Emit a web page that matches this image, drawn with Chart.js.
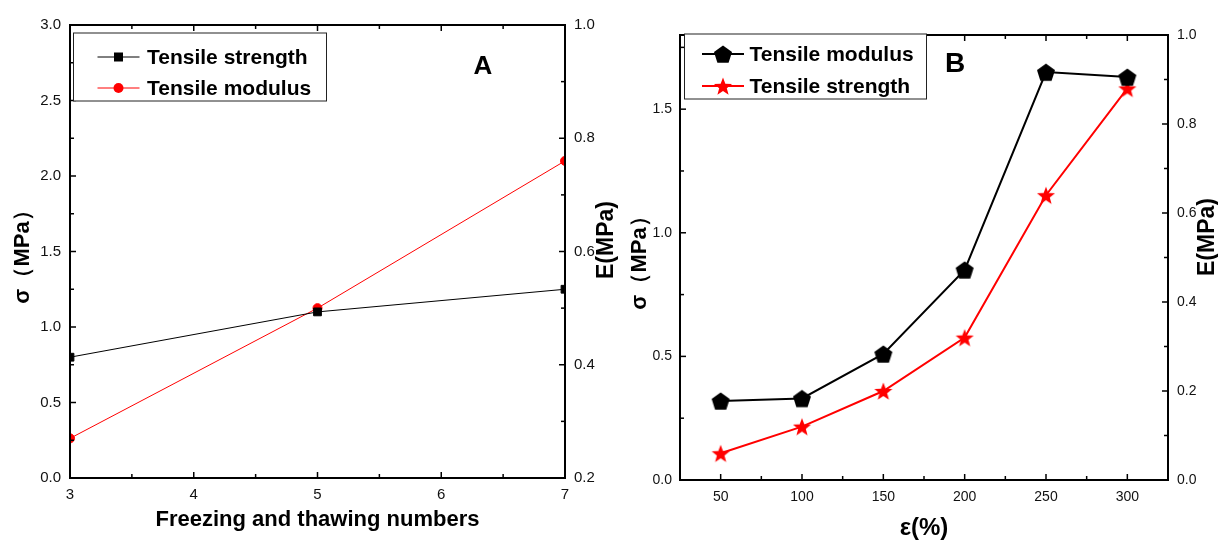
<!DOCTYPE html>
<html>
<head>
<meta charset="utf-8">
<script src="https://cdn.jsdelivr.net/npm/chart.js@4.4.0/dist/chart.umd.min.js"></script>
<style>
body { margin: 0; background: #fff; }
#wrap { position: relative; width: 1218px; height: 541px; overflow: hidden; }
canvas { position: absolute; top: 0; }
#chartA { left: 0; }
#chartB { left: 620px; }
</style>
</head>
<body>
<div id="wrap">
<canvas id="chartA" width="620" height="541"></canvas>
<canvas id="chartB" width="598" height="541"></canvas>
</div>
<script>
// Panel A - freeze/thaw cycles
const cyclesA = [3, 5, 7];
const strengthA = [0.8, 1.1, 1.25];   // sigma, left axis
const modulusA = [0.27, 0.5, 0.76];   // E, right axis

// Panel B - strain
const strainB = [50, 100, 150, 200, 250, 300];
const modulusB = [0.32, 0.33, 0.51, 0.85, 1.65, 1.63];  // left axis
const strengthB = [0.06, 0.12, 0.2, 0.32, 0.64, 0.88];  // right axis
const xTicksB = [50, 100, 150, 200, 250, 300];
const yTicksB = [0, 0.5, 1.0, 1.5];

const FONT = '"Liberation Sans", Arial, Helvetica, sans-serif';
Chart.defaults.font.family = FONT;
Chart.defaults.color = '#000';

function toPoints(xs, ys) {
    return xs.map((x, i) => ({ x: x, y: ys[i] }));
}

// filled pentagon / star glyphs, Chart.js only has outline star
function makeMarker(kind, color, size) {
    const c = document.createElement('canvas');
    c.width = size;
    c.height = size;
    const g = c.getContext('2d');
    const R = size / 2 - 0.5;
    const cx = size / 2, cy = size / 2 + R * 0.1;
    const n = kind == 'star' ? 10 : 5;
    g.beginPath();
    for (let i = 0; i < n; i++) {
        const ang = -Math.PI / 2 + i * 2 * Math.PI / n;
        const r = (kind == 'star' && i % 2) ? R * 0.42 : R;
        const px = cx + r * Math.cos(ang), py = cy + r * Math.sin(ang);
        if (i == 0) g.moveTo(px, py); else g.lineTo(px, py);
    }
    g.closePath();
    g.fillStyle = color;
    g.fill();
    return c;
}
const pentagon = makeMarker('pentagon', '#000', 20);
const star = makeMarker('star', '#f00', 20);

function tickValues(scale, step) {
    const half = step / 2;
    const out = [];
    const i0 = Math.ceil(scale.min / half - 1e-6), i1 = Math.floor(scale.max / half + 1e-6);
    for (let i = i0; i <= i1; i++) {
        out.push([i * half, Math.abs(i * half / step - Math.round(i * half / step)) < 1e-6]);
    }
    return out;
}

const panelDecor = {
    id: 'panelDecor',
    afterDatasetsDraw(chart, args, o) {
        const ctx = chart.ctx, a = chart.chartArea;
        const sx = chart.scales.x, sy = chart.scales.y, sy1 = chart.scales.y1;
        ctx.save();
        ctx.strokeStyle = '#000';
        ctx.lineWidth = 1.5;
        const line = (x1, y1, x2, y2) => {
            ctx.beginPath(); ctx.moveTo(x1, y1); ctx.lineTo(x2, y2); ctx.stroke();
        };
        // inward ticks on all four sides
        tickValues(sx, o.xStep).forEach(([v, major]) => {
            const p = sx.getPixelForValue(v), L = major ? 6 : 4;
            line(p, a.bottom, p, a.bottom - L);
            line(p, a.top, p, a.top + L);
        });
        tickValues(sy, o.yStep).forEach(([v, major]) => {
            const p = sy.getPixelForValue(v), L = major ? 6 : 4;
            line(a.left, p, a.left + L, p);
        });
        tickValues(sy1, o.y1Step).forEach(([v, major]) => {
            const p = sy1.getPixelForValue(v), L = major ? 6 : 4;
            line(a.right, p, a.right - L, p);
        });
        ctx.lineWidth = 2;
        ctx.strokeRect(a.left, a.top, a.right - a.left, a.bottom - a.top);

        // legend box
        const lg = o.legend;
        ctx.fillStyle = '#fff';
        ctx.fillRect(lg.x, lg.y, lg.w, lg.h);
        ctx.lineWidth = 1;
        ctx.strokeStyle = '#222';
        ctx.strokeRect(lg.x, lg.y, lg.w, lg.h);
        chart.data.datasets.forEach((ds, i) => {
            const yy = lg.rows[i];
            ctx.strokeStyle = ds.borderColor;
            ctx.lineWidth = ds.borderWidth;
            line(lg.line[0], yy, lg.line[1], yy);
            const mx = (lg.line[0] + lg.line[1]) / 2;
            ctx.fillStyle = ds.borderColor;
            if (ds.pointStyle instanceof HTMLCanvasElement) {
                ctx.drawImage(ds.pointStyle, mx - ds.pointStyle.width / 2, yy - ds.pointStyle.height / 2);
            } else if (ds.pointStyle == 'rect') {
                ctx.fillRect(mx - 4.5, yy - 4.5, 9, 9);
            } else {
                ctx.beginPath(); ctx.arc(mx, yy, 5, 0, Math.PI * 2); ctx.fill();
            }
            ctx.fillStyle = '#000';
            ctx.font = 'bold 21px ' + FONT;
            ctx.textAlign = 'left';
            ctx.textBaseline = 'middle';
            ctx.fillText(ds.label, lg.textX, yy + 1);
        });

        // panel letter
        ctx.fillStyle = '#000';
        ctx.font = 'bold ' + o.letterSize + 'px ' + FONT;
        ctx.textAlign = 'center';
        ctx.textBaseline = 'middle';
        ctx.fillText(o.letter, o.letterX, o.letterY);

        // right axis title, reads bottom to top
        ctx.save();
        ctx.translate(o.rightTitleX, o.rightTitleY);
        ctx.rotate(-Math.PI / 2);
        ctx.font = 'bold 23px ' + FONT;
        ctx.fillText('E(MPa)', 0, 0);
        ctx.restore();
        ctx.restore();
    }
};

function axisOpts(extra) {
    return Object.assign({
        type: 'linear',
        grid: { display: false, drawTicks: false },
        border: { display: false }
    }, extra);
}

const fmt1 = v => v.toFixed(1);

// ---- Panel A ----
const ctxA = document.getElementById('chartA').getContext('2d');
const chartA = new Chart(ctxA, {
    type: 'line',
    data: {
        datasets: [{
            label: 'Tensile strength',
            data: toPoints(cyclesA, strengthA),
            yAxisID: 'y',
            borderColor: '#000',
            backgroundColor: '#000',
            borderWidth: 1,
            pointStyle: 'rect',
            pointRadius: 5.5,
            pointBorderWidth: 1,
            clip: 0
        }, {
            label: 'Tensile modulus',
            data: toPoints(cyclesA, modulusA),
            yAxisID: 'y1',
            borderColor: '#f00',
            backgroundColor: '#f00',
            borderWidth: 1,
            pointStyle: 'circle',
            pointRadius: 4.5,
            pointBorderWidth: 1,
            clip: 0
        }]
    },
    options: {
        responsive: false,
        animation: false,
        events: [],
        layout: { padding: { top: 25, left: 0, right: 0, bottom: 0 } },
        scales: {
            x: axisOpts({
                min: 3, max: 7,
                ticks: { stepSize: 1, padding: 8, font: { size: 15 }, color: '#111' },
                title: { display: true, text: 'Freezing and thawing numbers', font: { size: 22, weight: 'bold', lineHeight: 1 }, padding: { top: 0, bottom: 10 } },
                afterFit: s => { s.height = 63; }
            }),
            y: axisOpts({
                position: 'left',
                min: 0, max: 3,
                ticks: { stepSize: 0.5, padding: 9, font: { size: 15 }, color: '#111', callback: fmt1 },
                title: { display: true, text: 'σ（MPa）', font: { size: 22, weight: 'bold', lineHeight: 1 }, padding: { top: 12, bottom: 0 } },
                afterFit: s => { s.width = 70; }
            }),
            y1: axisOpts({
                position: 'right',
                min: 0.2, max: 1.0,
                ticks: { stepSize: 0.2, padding: 9, font: { size: 15 }, color: '#111', callback: fmt1 },
                afterFit: s => { s.width = 55; }
            })
        },
        plugins: {
            legend: { display: false },
            tooltip: { enabled: false },
            panelDecor: {
                xStep: 1, yStep: 0.5, y1Step: 0.2,
                legend: { x: 73.5, y: 33, w: 253, h: 68, line: [97.5, 139.5], textX: 147, rows: [57, 88] },
                letter: 'A', letterX: 483, letterY: 67, letterSize: 26,
                rightTitleX: 607, rightTitleY: 240
            }
        }
    },
    plugins: [panelDecor]
});

// ---- Panel B ----
const ctxB = document.getElementById('chartB').getContext('2d');
const chartB = new Chart(ctxB, {
    type: 'line',
    data: {
        datasets: [{
            label: 'Tensile modulus',
            data: toPoints(strainB, modulusB),
            yAxisID: 'y',
            borderColor: '#000',
            backgroundColor: '#000',
            borderWidth: 2,
            pointStyle: pentagon,
            pointRadius: 8
        }, {
            label: 'Tensile strength',
            data: toPoints(strainB, strengthB),
            yAxisID: 'y1',
            borderColor: '#f00',
            backgroundColor: '#f00',
            borderWidth: 2,
            pointStyle: star,
            pointRadius: 8
        }]
    },
    options: {
        responsive: false,
        animation: false,
        events: [],
        layout: { padding: { top: 35, left: 0, right: 0, bottom: 0 } },
        scales: {
            x: axisOpts({
                min: 25, max: 325,
                ticks: { padding: 9, font: { size: 14 }, color: '#111' },
                afterBuildTicks: s => { s.ticks = xTicksB.map(v => ({ value: v })); },
                title: { display: true, text: 'ε(%)', font: { size: 24, weight: 'bold', lineHeight: 1 }, padding: { top: 0, bottom: 1 } },
                afterFit: s => { s.height = 61; }
            }),
            y: axisOpts({
                position: 'left',
                min: 0, max: 1.8,
                ticks: { padding: 8, font: { size: 14 }, color: '#111', callback: fmt1 },
                afterBuildTicks: s => { s.ticks = yTicksB.map(v => ({ value: v })); },
                title: { display: true, text: 'σ（MPa）', font: { size: 22, weight: 'bold', lineHeight: 1 }, padding: { top: 9, bottom: 0 } },
                afterFit: s => { s.width = 60; }
            }),
            y1: axisOpts({
                position: 'right',
                min: 0, max: 1.0,
                ticks: { stepSize: 0.2, padding: 9, font: { size: 14 }, color: '#111', callback: fmt1 },
                afterFit: s => { s.width = 50; }
            })
        },
        plugins: {
            legend: { display: false },
            tooltip: { enabled: false },
            panelDecor: {
                xStep: 50, yStep: 0.5, y1Step: 0.2,
                legend: { x: 64.5, y: 34, w: 242, h: 65, line: [82, 124], textX: 129.5, rows: [54, 86] },
                letter: 'B', letterX: 335, letterY: 64, letterSize: 28,
                rightTitleX: 588, rightTitleY: 237
            }
        }
    },
    plugins: [panelDecor]
});
</script>
</body>
</html>
